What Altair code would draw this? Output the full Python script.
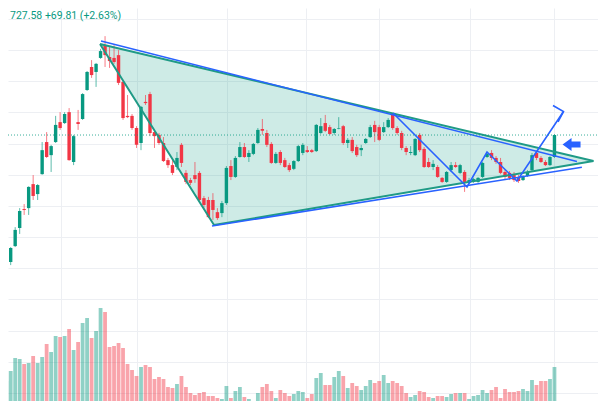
import altair as alt
import pandas as pd

# ---------------- data ----------------
open_ = [2272, 2236, 2320, 2371, 2429, 2490, 2493, 2570, 2538, 2602,
         2705, 2663, 2705, 2769, 2766, 2801, 2641, 2769, 2779, 2872,
         2946, 2930, 2975, 3016, 2978, 2975, 2984, 2898, 2789, 2789,
         2750, 2702, 2834, 2859, 2737, 2728, 2702, 2647, 2631, 2625,
         2696, 2606, 2583, 2599, 2606, 2525, 2519, 2519, 2480, 2477,
         2509, 2628, 2593, 2657, 2689, 2657, 2667, 2702, 2747, 2734,
         2699, 2638, 2673, 2647, 2631, 2619, 2644, 2670, 2679, 2679,
         2676, 2734, 2766, 2753, 2734, 2748, 2756, 2702, 2712, 2689,
         2679, 2702, 2721, 2760, 2753, 2737, 2753, 2795, 2750, 2734,
         2686, 2670, 2663, 2728, 2683, 2641, 2625, 2625, 2590, 2577,
         2615, 2631, 2606, 2609, 2574, 2577, 2577, 2593, 2657, 2670,
         2654, 2641, 2609, 2606, 2599, 2593, 2583, 2596, 2615, 2670,
         2654, 2641, 2631, 2657]
close_ = [2236, 2310, 2365, 2423, 2484, 2487, 2561, 2532, 2567, 2679,
          2657, 2692, 2760, 2750, 2795, 2647, 2724, 2763, 2859, 2930,
          2920, 2956, 2997, 2984, 2965, 2962, 2895, 2782, 2785, 2750,
          2696, 2818, 2830, 2734, 2724, 2702, 2644, 2631, 2606, 2654,
          2638, 2577, 2574, 2586, 2519, 2503, 2464, 2487, 2461, 2509,
          2622, 2593, 2654, 2689, 2657, 2670, 2699, 2744, 2741, 2696,
          2638, 2667, 2638, 2625, 2615, 2644, 2692, 2696, 2673, 2673,
          2760, 2756, 2741, 2731, 2747, 2750, 2702, 2712, 2676, 2663,
          2686, 2715, 2753, 2737, 2712, 2753, 2776, 2750, 2734, 2686,
          2673, 2673, 2715, 2679, 2625, 2625, 2635, 2593, 2577, 2609,
          2631, 2625, 2631, 2577, 2583, 2586, 2590, 2638, 2667, 2654,
          2641, 2606, 2593, 2590, 2583, 2580, 2596, 2609, 2663, 2654,
          2641, 2631, 2657, 2727.58]
high_ = [2285, 2314, 2368, 2432, 2493, 2506, 2563, 2599, 2570, 2705,
         2737, 2696, 2789, 2801, 2801, 2814, 2728, 2808, 2862, 2933,
         2968, 2959, 3004, 3045, 3010, 3016, 3000, 2904, 2856, 2795,
         2756, 2821, 2856, 2866, 2744, 2734, 2721, 2654, 2647, 2673,
         2702, 2615, 2590, 2641, 2612, 2532, 2529, 2541, 2493, 2516,
         2628, 2647, 2660, 2705, 2702, 2679, 2702, 2750, 2779, 2744,
         2705, 2673, 2679, 2654, 2638, 2647, 2696, 2702, 2692, 2683,
         2763, 2782, 2792, 2760, 2750, 2785, 2760, 2718, 2721, 2696,
         2696, 2718, 2760, 2773, 2760, 2769, 2782, 2798, 2756, 2741,
         2692, 2692, 2718, 2734, 2689, 2654, 2647, 2631, 2593, 2612,
         2641, 2641, 2635, 2615, 2590, 2590, 2593, 2641, 2673, 2679,
         2660, 2654, 2615, 2612, 2609, 2599, 2599, 2615, 2670, 2676,
         2660, 2647, 2660, 2730]
low_ = [2233, 2230, 2310, 2368, 2410, 2471, 2471, 2519, 2519, 2600,
        2654, 2609, 2702, 2744, 2763, 2645, 2631, 2744, 2776, 2869,
        2911, 2882, 2972, 2946, 2943, 2956, 2888, 2776, 2782, 2744,
        2686, 2679, 2824, 2724, 2686, 2696, 2641, 2622, 2599, 2615,
        2625, 2570, 2567, 2574, 2516, 2487, 2461, 2455, 2455, 2464,
        2503, 2583, 2590, 2655, 2654, 2641, 2663, 2699, 2728, 2689,
        2635, 2635, 2631, 2622, 2609, 2615, 2641, 2663, 2670, 2670,
        2673, 2731, 2737, 2728, 2728, 2746, 2696, 2686, 2670, 2657,
        2660, 2699, 2718, 2705, 2708, 2734, 2750, 2744, 2728, 2679,
        2663, 2663, 2660, 2673, 2622, 2622, 2615, 2590, 2574, 2574,
        2609, 2622, 2602, 2545, 2570, 2574, 2574, 2590, 2654, 2647,
        2635, 2602, 2583, 2583, 2577, 2574, 2580, 2593, 2612, 2647,
        2638, 2628, 2628, 2654]
volume = [27, 28, 38, 51, 50, 45, 46, 53, 46, 52,
          65, 57, 73, 72, 73, 80, 59, 67, 86, 91,
          71, 78, 101, 97, 62, 63, 66, 61, 45, 39,
          33, 42, 44, 42, 30, 32, 30, 22, 21, 25,
          33, 22, 16, 14, 16, 17, 13, 13, 11, 10,
          23, 11, 18, 22, 12, 10, 7, 16, 22, 25,
          18, 11, 19, 16, 13, 15, 18, 17, 11, 15,
          31, 36, 24, 24, 32, 38, 33, 21, 26, 23,
          19, 23, 29, 26, 28, 34, 26, 28, 26, 23,
          16, 12, 14, 18, 17, 12, 11, 13, 13, 12,
          15, 16, 16, 16, 10, 13, 14, 19, 16, 19,
          22, 11, 20, 17, 17, 18, 20, 18, 29, 24,
          28, 28, 30, 42]

grid_x = [13.2, 30.0, 50.13, 67.71, 83.96, 104.1, 122.79]
grid_y = [1900, 2000, 2100, 2200, 2300, 2400, 2500, 2600, 2700, 2800, 2900, 3000, 3100]

# triangle pattern vertices (bar index, price)
tri_x = [21.87, 47.24, 131.69]
tri_p = [3019.8, 2438.7, 2644.2]
# blue trend lines
upper_x, upper_p = [22.1, 128.0], [3029.4, 2642.6]
lower_x, lower_p = [46.8, 129.1], [2435.5, 2624.0]
zig_x = [87.07, 103.54, 107.99, 114.66, 125.01]
zig_p = [2798.3, 2560.7, 2673.1, 2580.0, 2803.1]
head_x = [122.67, 125.01, 123.79]
head_p = [2822.3, 2803.1, 2769.4]
marker_x, marker_p = [126.8], [2697.0]
label = "727.58 +69.81 (+2.63%)"

UP, DOWN, BLUE = "#089981", "#f23645", "#2962ff"
GRID = "#edeff3"

# ---------------- tables ----------------
n = len(open_)
df = pd.DataFrame({
    "idx": list(range(n)), "open": open_, "close": close_,
    "high": high_, "low": low_, "vol": volume,
})
df["dir"] = ["up" if c >= o else "down" for o, c in zip(open_, close_)]

# triangle area: top edge runs from vertex 0 to apex
t_mid = tri_p[0] + (tri_x[1] - tri_x[0]) / (tri_x[2] - tri_x[0]) * (tri_p[2] - tri_p[0])
tri_area = pd.DataFrame({"x": tri_x, "top": [tri_p[0], t_mid, tri_p[2]],
                         "bot": [tri_p[0], tri_p[1], tri_p[2]]})
tri_line = pd.DataFrame({"x": tri_x + [tri_x[0]], "p": tri_p + [tri_p[0]],
                         "o": [0, 1, 2, 3], "seg": ["tri"] * 4})

rows = []
for name, xs, ps in [("upper", upper_x, upper_p), ("lower", lower_x, lower_p),
                     ("zig", zig_x, zig_p), ("head", head_x, head_p)]:
    for k, (a, b) in enumerate(zip(xs, ps)):
        rows.append({"x": a, "p": b, "o": k, "seg": name})
blue_df = pd.DataFrame(rows)

XS = alt.Scale(domain=[1.402, 132.688], nice=False, zero=False, padding=0)
YS = alt.Scale(domain=[1873.8, 3135.3], nice=False, zero=False, padding=0)
VS = alt.Scale(domain=[8, 401], nice=False, zero=False, padding=0)
XA = alt.Axis(values=grid_x, grid=True, gridColor=GRID, labels=False, ticks=False,
              domain=False, title=None)
YA = alt.Axis(values=grid_y, grid=True, gridColor=GRID, labels=False, ticks=False,
              domain=False, title=None)
CS = alt.Scale(domain=["up", "down"], range=[UP, DOWN])


def X(f):
    return alt.X(f, type="quantitative", scale=XS, axis=XA)


def Y(f):
    return alt.Y(f, type="quantitative", scale=YS, axis=YA)


vol_layer = alt.Chart(df).mark_bar(size=3.8, opacity=0.45, clip=True).encode(
    x=X("idx"),
    y=alt.Y("vol:Q", scale=VS, axis=None),
    y2=alt.datum(0),
    color=alt.Color("dir:N", scale=CS, legend=None),
)

fill = alt.Chart(tri_area).mark_area(color=UP, opacity=0.2, clip=True).encode(
    x=X("x"), y=Y("top"), y2="bot:Q")

wick = alt.Chart(df).mark_rule(strokeWidth=1, opacity=0.65, clip=True).encode(
    x=X("idx"), y=Y("low"), y2="high:Q",
    color=alt.Color("dir:N", scale=CS, legend=None))

body = alt.Chart(df).mark_bar(size=3.4, clip=True).encode(
    x=X("idx"), y=Y("open"), y2="close:Q",
    color=alt.Color("dir:N", scale=CS, legend=None))

tri_edges = alt.Chart(tri_line).mark_line(color="#1f9a86", strokeWidth=2, clip=True).encode(
    x=X("x"), y=Y("p"), order="o:Q", detail="seg:N")

blue_lines = alt.Chart(blue_df).mark_line(color=BLUE, strokeWidth=1.6, clip=True).encode(
    x=X("x"), y=Y("p"), order="o:Q", detail="seg:N")

price_line = alt.Chart(df.tail(1)).mark_rule(
    color=UP, strokeWidth=1, strokeDash=[1, 2], opacity=0.8).encode(
    y=Y("close"), x=alt.value(0), x2=alt.value(590))

arrow_shape = "M -1 0 L 0 -0.72 L 0 -0.33 L 1 -0.33 L 1 0.33 L 0 0.33 L 0 0.72 Z"
marker = alt.Chart(pd.DataFrame({"x": marker_x, "p": marker_p})).mark_point(
    shape=arrow_shape, filled=True, size=324, color=BLUE, opacity=1).encode(
    x=X("x"), y=Y("p"))

text = alt.Chart(pd.DataFrame({"t": [label]})).mark_text(
    align="left", baseline="top", fontSize=10.5, font="Roboto", color=UP).encode(
    x=alt.value(2), y=alt.value(3), text="t:N")

price = alt.layer(fill, wick, body, tri_edges, blue_lines, price_line, marker, text)

chart = alt.layer(vol_layer, price).resolve_scale(y="independent", color="shared").properties(
    width=590, height=393, padding=0,
    autosize=alt.AutoSizeParams(type="none"),
    background="white",
).configure_view(stroke=None)

chart.save("out.html", embed_options={"renderer": "svg", "actions": False})
